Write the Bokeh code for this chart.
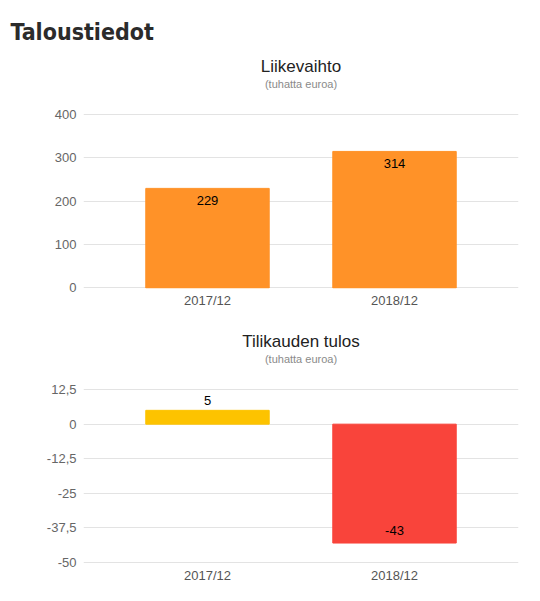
from bokeh.plotting import figure
from bokeh.models import ColumnDataSource, FactorRange, Range1d, FixedTicker, Title
from bokeh.layouts import column
from bokeh.core.properties import value
from bokeh.embed import file_html
from bokeh.resources import INLINE

periods = ["2017/12", "2018/12"]
revenue = [229, 314]
result = [5, -43]
revenue_colors = ["#ff9228", "#ff9228"]
result_colors = ["#fdc300", "#f9443b"]
rev_ticks = [0, 100, 200, 300, 400]
rev_tick_labels = ["0", "100", "200", "300", "400"]
res_ticks = [12.5, 0, -12.5, -25, -37.5, -50]
res_tick_labels = ["12,5", "0", "-12,5", "-25", "-37,5", "-50"]

FONT = "Liberation Sans"


def make_fig(values, colors, yrange, ticks, tick_labels, title, subtitle, top, bottom,
             height, title_standoff, heading=None):
    p = figure(x_range=FactorRange(factors=periods, range_padding=0.163),
               y_range=Range1d(*yrange), width=540, height=height,
               output_backend="svg", toolbar_location=None,
               min_border_left=83, min_border_right=22,
               min_border_top=top, min_border_bottom=bottom)
    p.outline_line_color = None
    labels = [str(v) for v in values]
    baselines = ["top" if v > 20 else "bottom" for v in values]
    offs = [8 if v > 20 else (-5 if v >= 0 else -8) for v in values]
    src = ColumnDataSource(dict(x=periods, top=values, color=colors, lbl=labels,
                                y=values, bl=baselines, off=offs))
    p.vbar(x="x", top="top", bottom=0, width=0.66, color="color", source=src)
    p.text(x="x", y="y", text="lbl", text_align="center", text_baseline="bl",
           y_offset="off", text_font_size="13px", text_color="#000000",
           text_font=value(FONT), source=src)
    p.yaxis.ticker = FixedTicker(ticks=ticks)
    p.yaxis.major_label_overrides = {t: l for t, l in zip(ticks, tick_labels)}
    for ax in (p.xaxis, p.yaxis):
        ax.axis_line_color = None
        ax.major_tick_line_color = None
        ax.minor_tick_line_color = None
        ax.major_tick_out = 0
        ax.major_tick_in = 0
        ax.minor_tick_out = 0
        ax.major_label_text_font = FONT
        ax.major_label_text_font_size = "13px"
        ax.major_label_text_color = "#666666"
    p.xaxis.major_label_text_color = "#555555"
    p.yaxis.major_label_standoff = 7
    p.xaxis.major_label_standoff = 4
    p.xgrid.grid_line_color = None
    p.ygrid.grid_line_color = "#e3e3e3"
    p.ygrid.ticker = FixedTicker(ticks=ticks)
    p.title = None
    # spacer between plot frame and subtitle
    p.add_layout(Title(text=" ", standoff=10, text_font=FONT, text_font_size="11px"), "above")
    p.add_layout(Title(text=subtitle, align="center", offset=-22, standoff=0,
                       text_font=FONT, text_font_size="11px",
                       text_font_style="normal", text_color="#8a8a8a"), "above")
    p.add_layout(Title(text=title, align="center", offset=-22, standoff=title_standoff,
                       text_font=FONT, text_font_size="17px",
                       text_font_style="normal", text_color="#222222"), "above")
    if heading:
        p.add_layout(Title(text=heading, align="left", offset=-73, standoff=19,
                           text_font="'DejaVu Sans Condensed', 'Noto Sans'",
                           text_font_size="23px", text_font_style="bold",
                           text_color="#2b2b2b"), "above")
    return p


p1 = make_fig(revenue, revenue_colors, (-1.2, 401.2), rev_ticks, rev_tick_labels,
              "Liikevaihto", "(tuhatta euroa)", 113, 32, 320, 0, heading="Taloustiedot")
p2 = make_fig(result, result_colors, (-50.4, 12.9), res_ticks, res_tick_labels,
              "Tilikauden tulos", "(tuhatta euroa)", 68, 38, 281, 0)

layout = column(p1, p2, spacing=0)
open("out.html", "w").write(file_html(layout, INLINE))
